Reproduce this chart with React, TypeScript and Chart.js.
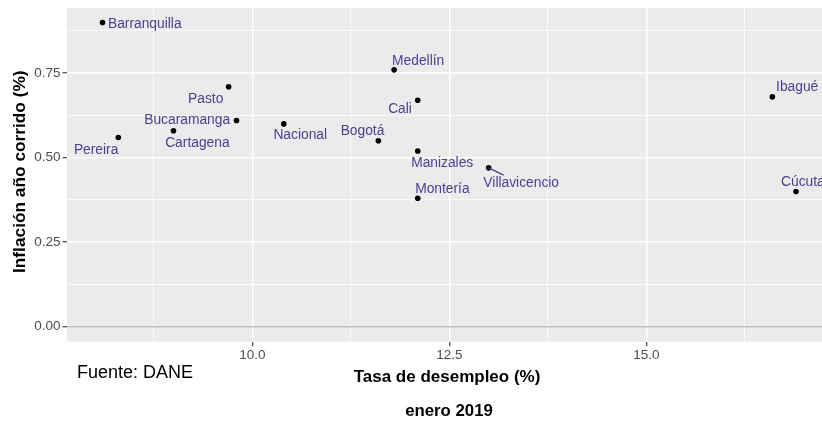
import React, { useEffect, useRef } from "react";
import { Chart, registerables } from "chart.js";

Chart.register(...registerables);

const cities = ["Barranquilla", "Pereira", "Cartagena", "Pasto", "Bucaramanga", "Nacional", "Bogotá", "Medellín", "Cali", "Manizales", "Montería", "Villavicencio", "Ibagué", "Cúcuta"];
const desempleo = [8.1, 8.3, 9.0, 9.7, 9.8, 10.4, 11.6, 11.8, 12.1, 12.1, 12.1, 13.0, 16.6, 16.9];
const inflacion = [0.9, 0.56, 0.58, 0.71, 0.61, 0.6, 0.55, 0.76, 0.67, 0.52, 0.38, 0.47, 0.68, 0.4];

const xTicks = [8.75, 10, 11.25, 12.5, 13.75, 15, 16.25];
const yTicks = [0, 0.125, 0.25, 0.375, 0.5, 0.625, 0.75, 0.875];

// label placement (pixel offsets from the point, text left edge / vertical middle)
const labelOffsets: [number, number][] = [
  [5.4, 1.5], [-44.4, 12.4], [-8.3, 12.2], [-40.6, 12.2], [-92.3, -0.5], [-10.4, 11.5], [-37.7, -9.5],
  [-2, -8.9], [-29.6, 8.8], [-6.6, 12.1], [-2.6, -8.8], [-5.3, 15.8], [3.7, -9.2], [-15, -9.2],
];
const segments: Record<string, [number, number]> = { Villavicencio: [15, 7.3] };

const FONT = '"Liberation Sans", Arial, Helvetica, sans-serif';
const LABEL_COLOR = "#4A3F91";

const isMajor = (v: number, step: number) => Math.abs(v / step - Math.round(v / step)) < 1e-6;

export default function App() {
  const ref = useRef<HTMLCanvasElement | null>(null);
  useEffect(() => {
    document.body.style.margin = "0";
    const canvas = ref.current!;
    const bg = {
      id: "bg",
      beforeDraw(chart: any) {
        const { ctx, chartArea: a } = chart;
        ctx.save();
        ctx.fillStyle = "#EBEBEB";
        ctx.fillRect(a.left, a.top, a.right - a.left, a.bottom - a.top);
        ctx.restore();
      },
    };
    const hline = {
      id: "hline",
      beforeDatasetsDraw(chart: any) {
        const { ctx, chartArea: a } = chart;
        const y = chart.scales.y.getPixelForValue(0);
        ctx.save();
        ctx.strokeStyle = "#BEBEBE";
        ctx.lineWidth = 1.6;
        ctx.beginPath();
        ctx.moveTo(a.left, y);
        ctx.lineTo(a.right, y);
        ctx.stroke();
        ctx.restore();
      },
    };
    const labels = {
      id: "labels",
      afterDatasetsDraw(chart: any) {
        const { ctx } = chart;
        const meta = chart.getDatasetMeta(0);
        ctx.save();
        ctx.font = `13.8px ${FONT}`;
        ctx.fillStyle = LABEL_COLOR;
        ctx.strokeStyle = LABEL_COLOR;
        ctx.textAlign = "left";
        ctx.textBaseline = "middle";
        meta.data.forEach((pt: any, i: number) => {
          const [dx, dy] = labelOffsets[i];
          const seg = segments[cities[i]];
          if (seg) {
            ctx.lineWidth = 1.2;
            ctx.beginPath();
            ctx.moveTo(pt.x, pt.y);
            ctx.lineTo(pt.x + seg[0], pt.y + seg[1]);
            ctx.stroke();
          }
          ctx.fillText(cities[i], pt.x + dx, pt.y + dy);
        });
        ctx.restore();
      },
    };
    const texts = {
      id: "texts",
      afterDraw(chart: any) {
        const { ctx } = chart;
        ctx.save();
        ctx.fillStyle = "#000000";
        ctx.textAlign = "center";
        ctx.textBaseline = "middle";
        ctx.font = `bold 17px ${FONT}`;
        ctx.fillText("Tasa de desempleo (%)", 447, 377.5);
        ctx.font = `bold 16.8px ${FONT}`;
        ctx.fillText("enero 2019", 449, 411);
        ctx.textAlign = "left";
        ctx.font = `18px ${FONT}`;
        ctx.fillText("Fuente: DANE", 77, 373);
        ctx.translate(20, 171.7);
        ctx.rotate(-Math.PI / 2);
        ctx.textAlign = "center";
        ctx.font = `bold 17.3px ${FONT}`;
        ctx.fillText("Inflación año corrido (%)", 0, 0);
        ctx.restore();
      },
    };

    const chart = new Chart(canvas, {
      type: "scatter",
      data: {
        datasets: [
          {
            data: desempleo.map((x, i) => ({ x, y: inflacion[i] })),
            backgroundColor: "#000000",
            borderColor: "#000000",
            pointRadius: 2.8,
            borderWidth: 0,
          },
        ],
      },
      options: {
        responsive: false,
        animation: false,
        layout: { autoPadding: false, padding: { top: 8, right: 0, left: 0, bottom: 0 } },
        plugins: { legend: { display: false }, tooltip: { enabled: false } },
        scales: {
          x: {
            type: "linear",
            min: 7.649,
            max: 17.23,
            afterFit(scale: any) {
              scale.height = 79.3;
              scale.paddingLeft = 0;
              scale.paddingRight = 0;
            },
            afterBuildTicks(scale: any) {
              scale.ticks = xTicks.map((value) => ({ value }));
            },
            border: { display: false },
            grid: {
              color: "#FFFFFF",
              lineWidth: (c: any) => (c.tick && isMajor(c.tick.value, 2.5) ? 1.5 : 0.75),
              tickColor: (c: any) => (c.tick && isMajor(c.tick.value, 2.5) ? "#333333" : "rgba(0,0,0,0)"),
              tickLength: 4.5,
              tickWidth: 1.1,
            },
            ticks: {
              autoSkip: false,
              maxRotation: 0,
              padding: 1,
              color: "#4D4D4D",
              font: { family: FONT, size: 13.5 },
              callback: (v: any) => (isMajor(Number(v), 2.5) ? Number(v).toFixed(1) : ""),
            },
          },
          y: {
            type: "linear",
            min: -0.0444,
            max: 0.943,
            afterFit(scale: any) {
              scale.width = 67;
              scale.paddingTop = 0;
              scale.paddingBottom = 0;
            },
            afterBuildTicks(scale: any) {
              scale.ticks = yTicks.map((value) => ({ value }));
            },
            border: { display: false },
            grid: {
              color: "#FFFFFF",
              lineWidth: (c: any) => (c.tick && isMajor(c.tick.value, 0.25) ? 1.5 : 0.75),
              tickColor: (c: any) => (c.tick && isMajor(c.tick.value, 0.25) ? "#333333" : "rgba(0,0,0,0)"),
              tickLength: 4.5,
              tickWidth: 1.1,
            },
            ticks: {
              autoSkip: false,
              padding: 2,
              color: "#4D4D4D",
              font: { family: FONT, size: 13.5 },
              callback: (v: any) => (isMajor(Number(v), 0.25) ? Number(v).toFixed(2) : ""),
            },
          },
        },
      },
      plugins: [bg, hline, labels, texts],
    });
    return () => chart.destroy();
  }, []);
  return <canvas ref={ref} width={822} height={421} style={{ display: "block" }} />;
}
